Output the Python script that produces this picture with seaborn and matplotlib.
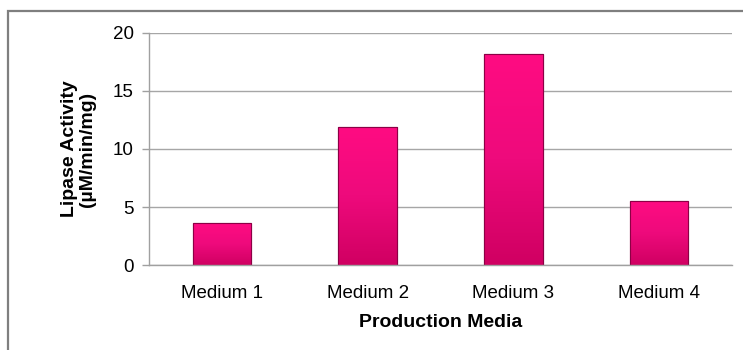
import matplotlib
matplotlib.use("Agg")
import matplotlib.pyplot as plt
import matplotlib.patches as mpatches
from matplotlib.colors import LinearSegmentedColormap
import numpy as np
import seaborn as sns
import pandas as pd

media = ["Medium 1", "Medium 2", "Medium 3", "Medium 4"]
activity = [3.6, 11.9, 18.15, 5.55]
y_ticks = [0, 5, 10, 15, 20]

df = pd.DataFrame({"Production Media": media, "Activity": activity})

sns.set_theme(style="white")
plt.rcParams["font.family"] = ["Liberation Sans", "DejaVu Sans"]

fig = plt.figure(figsize=(7.43, 3.5), dpi=100)
ax = fig.add_axes([0.2005, 0.242, 0.9852 - 0.2005, 0.9066 - 0.242])

sns.barplot(data=df, x="Production Media", y="Activity", color="#EC0A7A",
            width=0.4, saturation=1, edgecolor="#8C0045", linewidth=0.8, ax=ax)

# subtle vertical gradient inside each bar
cmap = LinearSegmentedColormap.from_list("pk", ["#D00062", "#EE0A7C", "#FF0C82"])
grad = np.linspace(0, 1, 256).reshape(-1, 1)
for p in ax.patches:
    x0, y0 = p.get_x(), p.get_y()
    w, h = p.get_width(), p.get_height()
    im = ax.imshow(grad, extent=(x0, x0 + w, y0, y0 + h), origin="lower", cmap=cmap,
                   aspect="auto", zorder=p.get_zorder() + 0.1, interpolation="bicubic")
    im.set_clip_path(p)
    outline = mpatches.Rectangle((x0, y0), w, h, fill=False, edgecolor="#8C0045",
                                 linewidth=0.8, zorder=p.get_zorder() + 0.2)
    ax.add_patch(outline)

ax.set_ylim(0, 20)
ax.set_yticks(y_ticks)
ax.set_xlim(-0.5, 3.5)
ax.yaxis.grid(True, color="#A6A6A6", linewidth=1.0)
ax.set_axisbelow(True)
for s in ["top", "right"]:
    ax.spines[s].set_visible(False)
for s in ["left", "bottom"]:
    ax.spines[s].set_color("#A0A0A0")
    ax.spines[s].set_linewidth(1.0)
ax.tick_params(axis="y", which="both", left=True, length=5, width=1, color="#A0A0A0",
               labelsize=13.5, labelcolor="black", pad=6)
ax.tick_params(axis="x", bottom=False, labelsize=13.5, labelcolor="black", pad=8)

ax.set_xlabel("Production Media", fontsize=14, fontweight="bold", color="black", labelpad=9)
ax.set_ylabel("Lipase Activity\n(µM/min/mg)", fontsize=14, fontweight="bold", color="black",
              labelpad=12, linespacing=1.1)

border = mpatches.Rectangle((8 / 743, -0.2), 1.2, 1 - 11 / 350 + 0.2, transform=fig.transFigure,
                            fill=False, edgecolor="#7F7F7F", linewidth=1.6, clip_on=False)
fig.add_artist(border)

fig.savefig("out.png", dpi=100)
